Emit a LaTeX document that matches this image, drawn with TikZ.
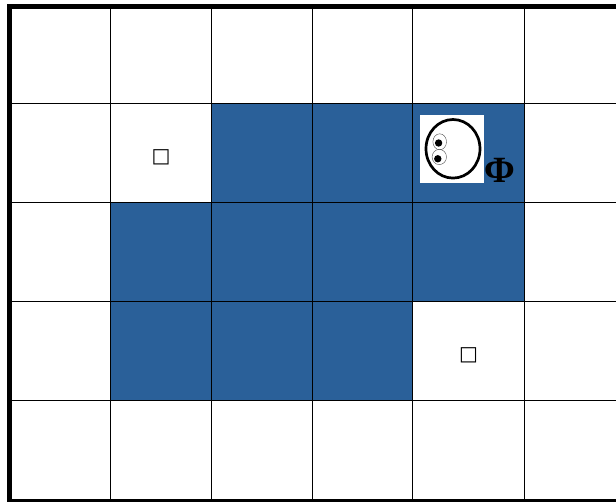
\documentclass[tikz,border=0pt]{standalone}
\usepackage{fontspec}
\setmainfont{Liberation Serif}
\newfontfamily\symfont{DejaVu Sans}
\usetikzlibrary{positioning}
\definecolor{Cell}{HTML}{2A6099}

\begin{document}
\begin{tikzpicture}[x=1pt,y=-1pt,
    blocked/.style={fill=Cell,draw=none},
    gridline/.style={black,line width=1pt},
    frameline/.style={black,line width=5pt},
    goalmark/.style={font=\symfont\fontsize{20pt}{20pt}\selectfont,inner sep=0pt}
  ]
  \useasboundingbox (0,0) rectangle (616,502);
  \fill[white] (0,0) rectangle (616,502);
  % blocked cells
  \fill[blocked] (211,103.5) rectangle (524,202.5);
  \fill[blocked] (110.5,202.5) rectangle (524,301.5);
  \fill[blocked] (110.5,301.5) rectangle (412.5,400.5);
  % grid
  \foreach \x in {110.5,211.5,312,412.5,524.5}
    \draw[gridline] (\x,7) -- (\x,501);
  \foreach \y in {103.5,202.5,301.5,400.5}
    \draw[gridline] (10,\y) -- (616,\y);
  \draw[frameline] (616,6.8) -- (9.8,6.8) -- (9.8,501.8) -- (616,501.8);
  % rewards
  \node[goalmark] (goalA) at (161,157) {□};
  \node[goalmark] (goalB) at (468.5,355) {□};
  % agent
  \fill[white] (420,115) rectangle (484,183);
  \draw[line width=2.7pt] (453,148.8) ellipse [x radius=27,y radius=29.3];
  \draw[line width=0.4pt,black!70] (439.7,141.8) ellipse [x radius=6.8,y radius=8];
  \draw[line width=0.4pt,black!70] (439.3,157) ellipse [x radius=7.2,y radius=7.6];
  \fill (438.6,143) circle (3.7);
  \fill (437.8,158.8) circle (3.7);
  \node[font=\bfseries\fontsize{37pt}{37pt}\selectfont,inner sep=0pt] (agent) at (499.5,170) {Φ};
\end{tikzpicture}
\end{document}
